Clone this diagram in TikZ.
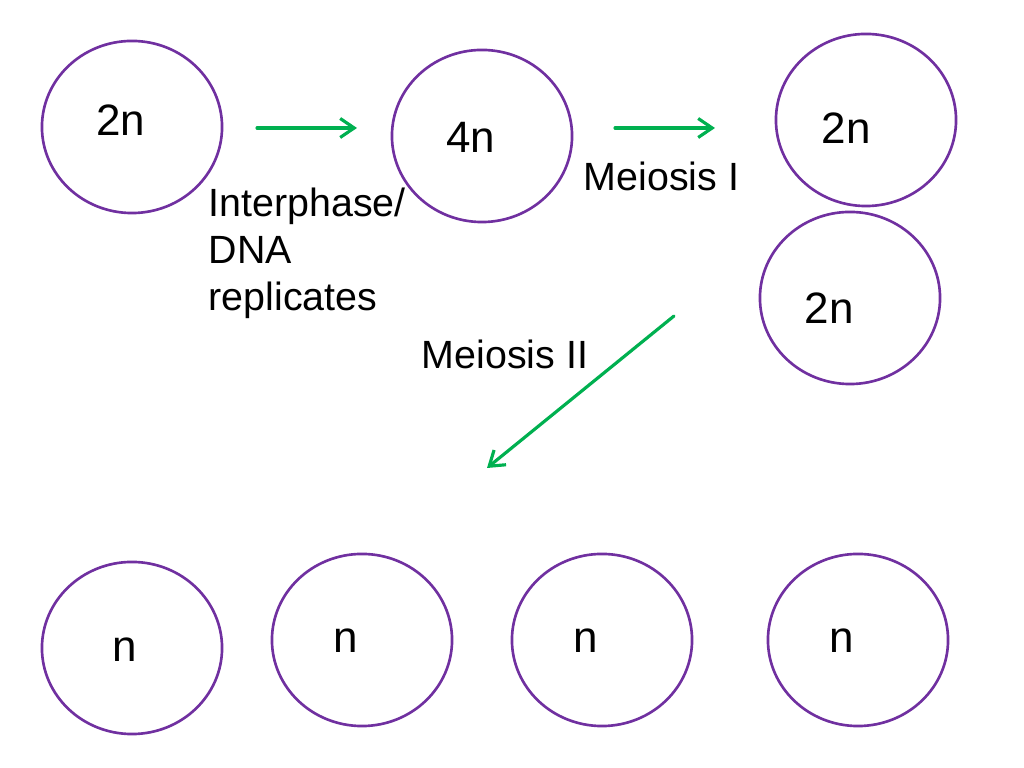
\documentclass[tikz,border=0pt]{standalone}
\usepackage{fontspec}
\setmainfont{Liberation Sans}
\usetikzlibrary{shapes.geometric,arrows.meta}
\definecolor{cellviola}{RGB}{112,48,160}
\definecolor{frecciaverde}{RGB}{0,176,80}

\begin{document}
\begin{tikzpicture}[x=0.01cm, y=-0.01cm, line cap=round, line join=round,
  cella/.style={ellipse, draw=cellviola, line width=0.75pt, minimum width=1.8cm, minimum height=1.72cm, inner sep=0pt},
  freccia/.style={draw=frecciaverde, line width=0.9pt, -{Straight Barb[length=1.4mm,width=1.9mm]}},
  etich/.style={font=\fontsize{12.5}{15}\selectfont, inner sep=0pt},
  testo/.style={font=\fontsize{11.2}{13.4}\selectfont, inner sep=0pt, align=left}]

\useasboundingbox (0,0) rectangle (1024,768);

% cellule in alto
\node[cella] (C1) at (132,127) {};
\node[cella] (C2) at (482,136) {};
\node[cella] (C3) at (866,120) {};
\node[cella] (C4) at (850,298) {};

% cellule figlie
\node[cella] (D1) at (132,648) {};
\node[cella] (D2) at (362,640) {};
\node[cella] (D3) at (602,640) {};
\node[cella] (D4) at (858,640) {};

% etichette delle cellule
\node[etich] (L1) at (121,120) {2n};
\node[etich] (L2) at (471,137) {4n};
\node[etich] (L3) at (846,128) {2n};
\node[etich] (L4) at (829,308) {2n};
\node[etich] (M1) at (125,650) {n};
\node[etich] (M2) at (346,641) {n};
\node[etich] (M3) at (586,641) {n};
\node[etich] (M4) at (842,641) {n};

% frecce
\coordinate (A1) at (257,128);
\coordinate (B1) at (357,128);
\coordinate (A2) at (615,128);
\coordinate (B2) at (715,128);
\coordinate (A3) at (674,316);
\coordinate (B3) at (487,468);

\draw[freccia] (A1) -- (B1);
\draw[freccia] (A2) -- (B2);
\draw[freccia] (A3) -- (B3);

% testi delle fasi
\node[testo, anchor=north west] (T1) at (208,187) {Interphase/\\DNA\\replicates};
\node[testo, anchor=west] (T2) at (583,176) {Meiosis I};
\node[testo, anchor=west] (T3) at (421,354) {Meiosis II};

\end{tikzpicture}
\end{document}
